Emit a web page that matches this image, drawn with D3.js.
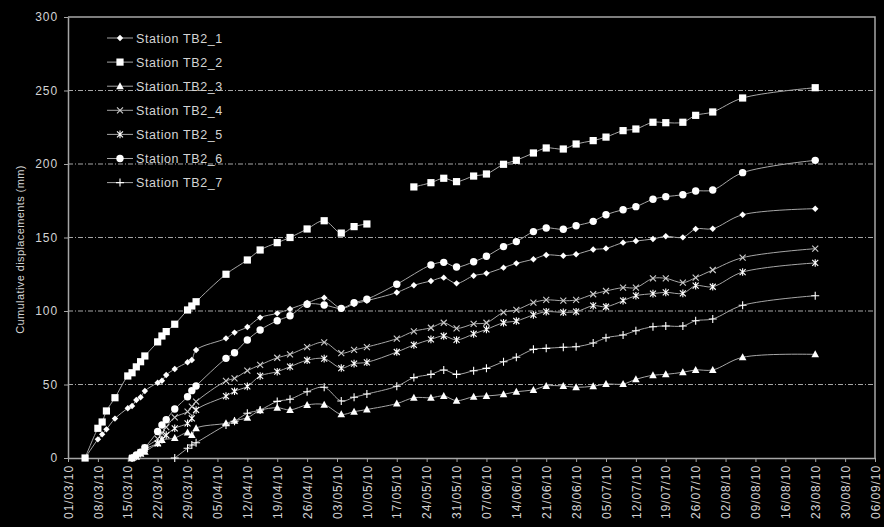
<!DOCTYPE html>
<html>
<head>
<meta charset="utf-8">
<script src="https://cdn.jsdelivr.net/npm/d3@7"></script>
<style>
  html, body { margin: 0; padding: 0; background: #000; }
  svg { display: block; }
</style>
</head>
<body>
<div id="chart"></div>
<script>
// survey dates
const dates = ["2010-03-05","2010-03-08","2010-03-09","2010-03-10","2010-03-12","2010-03-15","2010-03-16","2010-03-17","2010-03-18","2010-03-19",
  "2010-03-22","2010-03-23","2010-03-24","2010-03-26","2010-03-29","2010-03-30","2010-03-31","2010-04-07","2010-04-09","2010-04-12",
  "2010-04-15","2010-04-19","2010-04-22","2010-04-26","2010-04-30","2010-05-04","2010-05-07","2010-05-10","2010-05-17","2010-05-21",
  "2010-05-25","2010-05-28","2010-05-31","2010-06-04","2010-06-07","2010-06-11","2010-06-14","2010-06-18","2010-06-21","2010-06-25",
  "2010-06-28","2010-07-02","2010-07-05","2010-07-09","2010-07-12","2010-07-16","2010-07-19","2010-07-23","2010-07-26","2010-07-30",
  "2010-08-06","2010-08-23"];

const tb2_1 = [0,12.7,16.1,19.5,26.8,33.8,35.4,39.5,41.3,45.6,51.2,52.6,56.5,60.5,65.1,66.7,73.5,81.4,85.3,89.1,
  95.5,98.4,101.4,105.4,109,101.8,104.8,107,112.6,117.5,120.4,122.7,118.8,124,125.6,129.5,132.4,135.2,138.1,137.6,
  138.6,141.8,142.6,146.5,147.6,149,150.8,150.1,155.8,156,165.5,169.6];
const tb2_2 = [0,20.2,24.5,32,41,55.8,58,62,65.5,69.4,79,83,86,91,100.7,103.4,106.3,125,null,134.7,
  141.5,146.5,150,155.8,161.4,153,157.4,159.2,null,184.4,187.3,190.3,188,191.8,193.2,199.8,202.5,207.5,210.9,210.2,
  213.6,215.9,218.3,222.7,223.8,228.4,228.1,228.4,233.1,235.4,244.9,251.9];
const tb2_3 = [null,null,null,null,null,null,0,1,3,4.3,10,12.2,null,13.6,17.3,15.6,20.2,23.6,25.4,27.4,
  32.4,34.2,32.7,36.1,36.3,29.7,31.5,33,37,41,41,42.2,39,41.7,42.2,43.3,45.1,46.3,49,49,
  48.1,48.8,50.3,50.3,53.5,56.3,56.9,58.3,59.9,59.9,68.5,70.5];
const tb2_4 = [null,null,null,null,null,null,0,1.5,4,7,13,17,21,27.7,31.5,34.9,38.3,52.4,54.2,59.4,
  63.3,68.2,70.5,75.4,78.7,71.4,73.5,75.5,81.2,86.2,88.6,92,88.2,91.2,92,99.1,100.7,105.7,107.5,107,
  107.5,111.4,113.6,115.9,115.9,122.2,122.2,119.3,122.7,127.9,136.3,142.4];
const tb2_5 = [null,null,null,null,null,null,0,1,3,6,10,12.5,15.6,20.2,23.6,27,32.7,42.1,45.4,48.7,
  55.8,58.7,62.1,66.5,67.6,61.2,64.2,65.1,72.1,76.9,80.7,83,80.3,84.4,87.5,92,93.2,97.3,99.5,99.1,
  99.5,103.6,102.9,107,110.4,111.8,112.7,112,117.2,116.5,126.5,132.7];
const tb2_6 = [null,null,null,null,null,null,0,2,4,7,18,22.4,26,33.3,41.7,45.8,49,67.8,71.6,80.3,
  87.1,93.4,96.8,104.6,104.1,101.8,105.6,108,118.2,null,131.3,133.1,129.9,133.5,137.2,143.8,147.2,154,156.5,155.6,
  158,161,165.5,168.9,171,176,177.8,179.1,181.6,182.3,194.1,202.5];
const tb2_7 = [null,null,null,null,null,null,null,null,null,null,null,null,null,0,6.6,8.8,10.4,22.4,25,30.4,
  32.7,38.5,40,45.1,48.1,38.8,41.3,43.5,48.8,54.7,56.9,59.9,56.9,59.4,61,65.5,68.5,73.9,74.6,75.3,
  75.7,78.2,81.8,83.7,86.6,89.3,89.8,89.8,93.4,94.6,103.9,110.4];

const stationNames = ["Station TB2_1","Station TB2_2","Station TB2_3","Station TB2_4","Station TB2_5","Station TB2_6","Station TB2_7"];
const stationValues = [tb2_1, tb2_2, tb2_3, tb2_4, tb2_5, tb2_6, tb2_7];
// TB2_2 was not read between these dates, the line is broken there
const tb2_2Restart = "2010-05-21";

const yTicks = [0, 50, 100, 150, 200, 250, 300];
const xStart = "2010-03-01", xEnd = "2010-09-06";

const width = 884, height = 527;
const margin = {top: 17, right: 9, bottom: 69, left: 68};
const parse = d3.timeParse("%Y-%m-%d");

const x = d3.scaleTime()
  .domain([parse(xStart), parse(xEnd)])
  .range([margin.left, width - margin.right]);
const y = d3.scaleLinear()
  .domain([0, 300])
  .range([height - margin.bottom, margin.top]);

const grey = "#a6a6a6";
const textCol = "#d4d4d4";
const font = "'Liberation Sans', Arial, sans-serif";

const svg = d3.select("#chart").append("svg")
  .attr("width", width).attr("height", height)
  .style("background", "#000");

// grid lines (dash-dot)
svg.append("g")
  .selectAll("line")
  .data(yTicks.filter(v => v > 0 && v < 300))
  .join("line")
    .attr("x1", margin.left).attr("x2", width - margin.right)
    .attr("y1", d => y(d)).attr("y2", d => y(d))
    .attr("stroke", grey).attr("stroke-width", 1)
    .attr("stroke-dasharray", "5,2,1,2");

// frame top and right
svg.append("path")
  .attr("d", `M${margin.left},${y(300)}H${width - margin.right}V${y(0)}`)
  .attr("fill", "none").attr("stroke", grey).attr("stroke-width", 1.5);

// weekly ticks from 01/03/10
const xTickVals = d3.timeDay.range(parse(xStart), d3.timeDay.offset(parse(xEnd), 1), 7);

const xAxis = svg.append("g")
  .attr("transform", `translate(0,${y(0)})`)
  .call(d3.axisBottom(x).tickValues(xTickVals).tickFormat(d3.timeFormat("%d/%m/%y")).tickSize(4).tickSizeOuter(0));
xAxis.select(".domain").attr("stroke", grey).attr("stroke-width", 1.5);
xAxis.selectAll(".tick line").attr("stroke", grey);
xAxis.selectAll(".tick text")
  .attr("transform", "rotate(-90)")
  .attr("x", -7).attr("y", 0).attr("dy", "0.35em")
  .style("text-anchor", "end")
  .style("font-family", font).style("font-size", "12px").style("letter-spacing", "0.9px")
  .attr("fill", textCol);

const yAxis = svg.append("g")
  .attr("transform", `translate(${margin.left},0)`)
  .call(d3.axisLeft(y).tickValues(yTicks).tickSize(4).tickSizeOuter(0));
yAxis.select(".domain").attr("stroke", grey).attr("stroke-width", 1.5);
yAxis.selectAll(".tick line").attr("stroke", grey);
yAxis.selectAll(".tick text")
  .attr("x", -10)
  .style("font-family", font).style("font-size", "12px").style("letter-spacing", "0.9px")
  .attr("fill", textCol);

svg.append("text")
  .attr("transform", `translate(24,${(y(0) + y(300)) / 2 + 12}) rotate(-90)`)
  .attr("text-anchor", "middle")
  .style("font-family", font).style("font-size", "11px").style("letter-spacing", "0.4px")
  .attr("fill", textCol)
  .text("Cumulative displacements (mm)");

// marker shapes
const markers = [
  {type: "path", d: "M0,-3.2L3.2,0L0,3.2L-3.2,0Z", fill: "#fff", stroke: "none"},
  {type: "path", d: "M-3.6,-3.6H3.6V3.6H-3.6Z", fill: "#fff", stroke: "none"},
  {type: "path", d: "M0,-4L3.8,3H-3.8Z", fill: "#fff", stroke: "none"},
  {type: "path", d: "M-3,-3L3,3M-3,3L3,-3", fill: "none", stroke: "#ccc"},
  {type: "path", d: "M-3,-3L3,3M-3,3L3,-3M0,-3.8V3.8", fill: "none", stroke: "#fff"},
  {type: "circle", r: 3.7, fill: "#fff", stroke: "none"},
  {type: "path", d: "M-4,0H4M0,-4V4", fill: "none", stroke: "#fff"}
];

function drawMarker(g, m) {
  if (m.type === "circle") {
    g.append("circle").attr("r", m.r).attr("fill", m.fill);
  } else {
    g.append("path").attr("d", m.d).attr("fill", m.fill)
      .attr("stroke", m.stroke).attr("stroke-width", 1.1);
  }
}

const line = d3.line()
  .x(d => x(d.date))
  .y(d => y(d.value))
  .curve(d3.curveCatmullRom.alpha(0.5));

stationNames.forEach((name, i) => {
  const pts = dates.map((d, j) => ({date: parse(d), value: stationValues[i][j]}))
    .filter(p => p.value != null);

  let segments = [pts];
  if (i === 1) {
    const cut = parse(tb2_2Restart);
    segments = [pts.filter(p => p.date < cut), pts.filter(p => p.date >= cut)];
  }

  const g = svg.append("g");
  segments.forEach(seg => {
    g.append("path")
      .attr("d", line(seg))
      .attr("fill", "none")
      .attr("stroke", grey)
      .attr("stroke-width", 1);
  });

  g.selectAll("g.pt")
    .data(pts)
    .join("g")
      .attr("class", "pt")
      .attr("transform", p => `translate(${x(p.date)},${y(p.value)})`)
      .each(function() { drawMarker(d3.select(this), markers[i]); });
});

// legend
const legend = svg.append("g");
stationNames.forEach((name, i) => {
  const row = legend.append("g").attr("transform", `translate(0,${38 + i * 24.1})`);
  row.append("line").attr("x1", 107).attr("x2", 133).attr("y1", 0).attr("y2", 0)
    .attr("stroke", grey).attr("stroke-width", 1);
  const mk = row.append("g").attr("transform", "translate(120,0)");
  drawMarker(mk, markers[i]);
  row.append("text")
    .attr("x", 136).attr("y", 0).attr("dy", "0.36em")
    .style("font-family", font).style("font-size", "12.5px").style("letter-spacing", "0.6px")
    .attr("fill", textCol)
    .text(name);
});
</script>
</body>
</html>
